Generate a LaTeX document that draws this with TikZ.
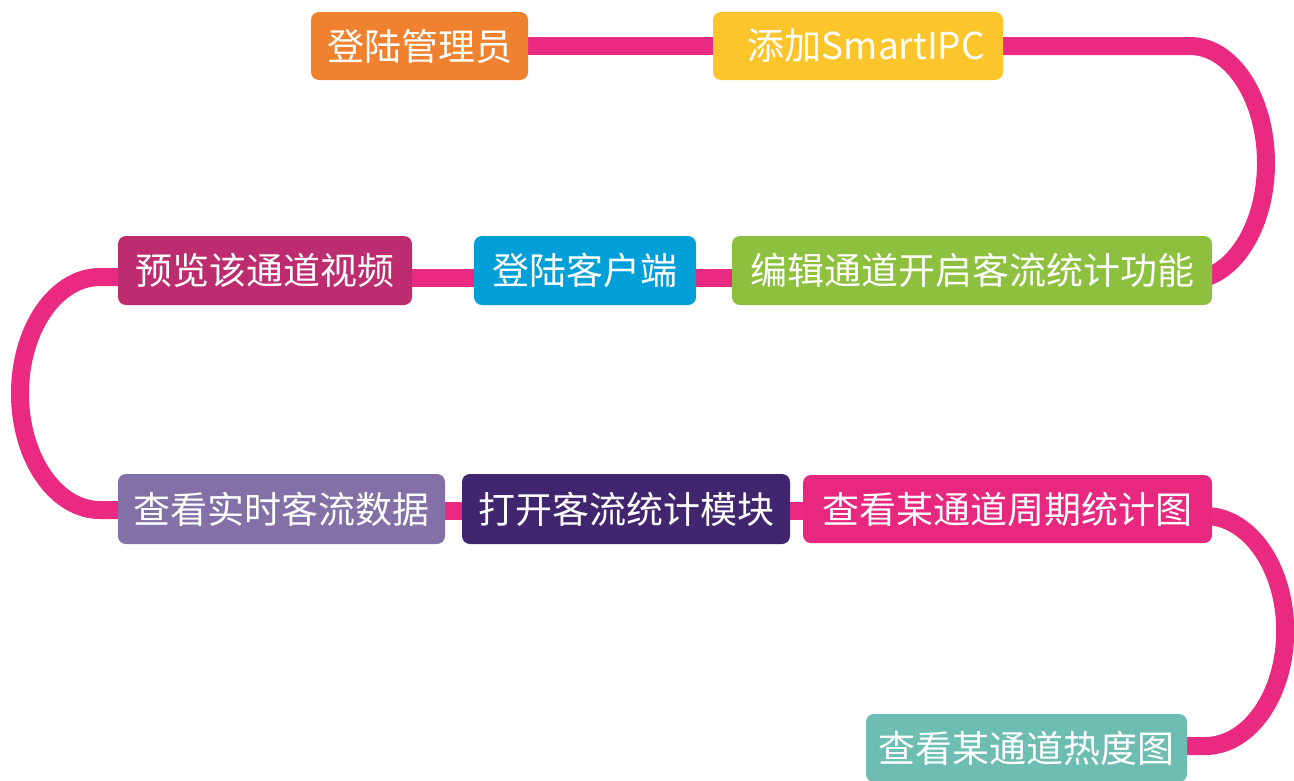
\documentclass[tikz,border=0pt]{standalone}
\usepackage{fontspec}
\setmainfont{Noto Sans CJK SC}
\usetikzlibrary{backgrounds}
\definecolor{corange}{HTML}{F0822F}
\definecolor{cyellow}{HTML}{FCC52B}
\definecolor{cgreen}{HTML}{8CC03E}
\definecolor{cblue}{HTML}{019FD8}
\definecolor{cmagenta}{HTML}{BC2C6E}
\definecolor{clavender}{HTML}{8370A7}
\definecolor{cpurple}{HTML}{41266F}
\definecolor{cpink}{HTML}{E8287F}
\definecolor{cteal}{HTML}{6DBDB3}
\definecolor{linkc}{HTML}{E92A80}
\tikzset{
  stepbox/.style={rounded corners=8pt, text=white, font=\fontsize{37}{42}\selectfont,
    minimum height=68pt, inner sep=0pt, anchor=center},
  link/.style={draw=linkc, line width=18pt}
}
\begin{document}
\begin{tikzpicture}[x=1pt,y=1pt]
\useasboundingbox (0,0) rectangle (1294,-780);
\node[stepbox, fill=corange, minimum width=217pt] (n1) at (419.5,-46) {登陆管理员};
\node[stepbox, fill=cyellow, minimum width=290pt, text width=254pt, align=right] (n2) at (858,-46) {添加SmartIPC};
\node[stepbox, fill=cgreen, minimum width=480pt, minimum height=69pt] (n3) at (972,-270.5) {编辑通道开启客流统计功能};
\node[stepbox, fill=cblue, minimum width=222pt, minimum height=69pt] (n4) at (585,-270.5) {登陆客户端};
\node[stepbox, fill=cmagenta, minimum width=294pt, minimum height=69pt] (n5) at (265,-270.5) {预览该通道视频};
\node[stepbox, fill=clavender, minimum width=327pt, minimum height=70pt] (n6) at (281.5,-509) {查看实时客流数据};
\node[stepbox, fill=cpurple, minimum width=328pt, minimum height=70pt] (n7) at (626,-509) {打开客流统计模块};
\node[stepbox, fill=cpink, minimum width=409pt] (n8) at (1007.5,-509) {查看某通道周期统计图};
\node[stepbox, fill=cteal, minimum width=321pt] (n9) at (1026.5,-748) {查看某通道热度图};
\begin{scope}[on background layer]
\fill[white] (0,0) rectangle (1294,-780);
\draw[link] (n1.east) -- (n2.west);
\draw[link] (n2.east) -- (1190,-46) arc[start angle=90, end angle=-90, x radius=76pt, y radius=117pt] -- ([yshift=-9.5pt]n3.east);
\draw[link] ([yshift=-7pt]n3.west) -- ([yshift=-7pt]n4.east);
\draw[link] ([yshift=-7pt]n4.west) -- ([yshift=-7pt]n5.east);
\draw[link] ([yshift=-6.5pt]n5.west) -- (100,-277) arc[start angle=90, end angle=270, x radius=80pt, y radius=116.5pt] -- ([yshift=-1pt]n6.west);
\draw[link] ([yshift=-1.5pt]n6.east) -- ([yshift=-1.5pt]n7.west);
\draw[link] ([yshift=-2pt]n7.east) -- ([yshift=-2pt]n8.west);
\draw[link] ([xshift=-7pt,yshift=-7pt]n8.east) arc[start angle=90, end angle=-90, x radius=80pt, y radius=115pt] -- ([yshift=2pt]n9.east);
\end{scope}
\end{tikzpicture}
\end{document}
